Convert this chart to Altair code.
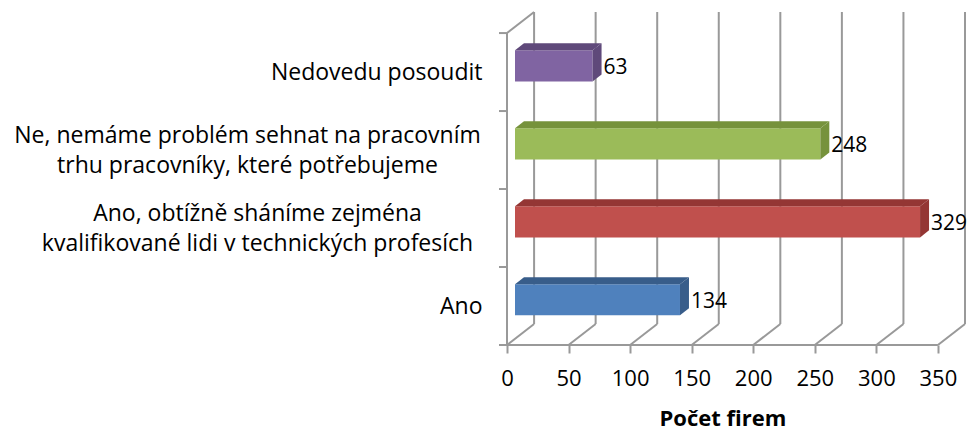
import altair as alt
import pandas as pd

# ---- data ----
categories = [
    ["Ano"],
    ["Ano, obtížně sháníme zejména", "kvalifikované lidi v technických profesích"],
    ["Ne, nemáme problém sehnat na pracovním", "trhu pracovníky, které potřebujeme"],
    ["Nedovedu posoudit"],
]
values = [134, 329, 248, 63]
front_colors = ["#4F81BD", "#C0504D", "#9BBB59", "#8064A2"]
dark_colors = ["#385D8A", "#943634", "#76923C", "#5F497A"]
x_ticks = [0, 50, 100, 150, 200, 250, 300, 350]

# ---- 3D geometry constants (in data units) ----
DX, DY = 22.0, 0.27        # depth of the box (back wall offset)
BX = 6.5                   # bar front-face offset into depth
BDX, BDY = 7.3, 0.09       # bar depth
Y0, Y1 = 0.38, 0.78        # bar front face within slot
XMIN, XMAX = -6.5, 350 + DX
YMAX = len(categories) + DY
W, H = 466, 333

xs = alt.Scale(domain=[XMIN, XMAX], nice=False, zero=False)
ys = alt.Scale(domain=[0, YMAX], nice=False, zero=False)

GRID = "#999999"
FONT = "Open Sans"
FS_CAT = 23
FS_NUM = 22
FS_VAL = 21

# grid / frame segments
segs = []
for v in x_ticks:
    segs.append(dict(x=v + DX, x2=v + DX, y=DY, y2=YMAX))        # back wall
    segs.append(dict(x=v, x2=v + DX, y=0, y2=DY))                 # floor
segs.append(dict(x=0, x2=DX, y=len(categories), y2=YMAX))        # left wall top
segs.append(dict(x=0, x2=0, y=0, y2=len(categories)))            # left front axis
segs.append(dict(x=0, x2=350, y=0, y2=0))                        # bottom front axis
for k in range(len(categories) + 1):
    segs.append(dict(x=XMIN, x2=0, y=k, y2=k))                   # left ticks
seg_df = pd.DataFrame(segs)

# bars
front_rows, top_rows, side_rows, lab_rows = [], [], [], []
for k, v in enumerate(values):
    x0, x1 = BX, BX + v
    y0, y1 = k + Y0, k + Y1
    front_rows.append(dict(id=k, x=x0, x2=x1, y=y0, y2=y1, c=front_colors[k]))
    top_rows.append(dict(id=k, y=y1, x=x0, x2=x1, c=dark_colors[k]))
    top_rows.append(dict(id=k, y=y1 + BDY, x=x0 + BDX, x2=x1 + BDX, c=dark_colors[k]))
    side_rows.append(dict(id=k, x=x1, y=y0, y2=y1, c=dark_colors[k]))
    side_rows.append(dict(id=k, x=x1 + BDX, y=y0 + BDY, y2=y1 + BDY, c=dark_colors[k]))
    lab_rows.append(dict(x=x1 + BDX, y=k + 0.55, t=str(v)))
front_df = pd.DataFrame(front_rows)
top_df = pd.DataFrame(top_rows)
side_df = pd.DataFrame(side_rows)
lab_df = pd.DataFrame(lab_rows)

# y label expression (multi-line)
def js_arr(lines):
    return "[" + ",".join("'" + s + "'" for s in lines) + "]"

expr = js_arr(categories[-1])
for k in range(len(categories) - 2, -1, -1):
    expr = f"datum.value < {k + 1} ? {js_arr(categories[k])} : " + expr

MULTI = "datum.value > 1 && datum.value < 3"

x_axis = alt.Axis(
    values=x_ticks, title="Počet firem", grid=False, domain=False,
    tickColor=GRID, tickWidth=2, tickSize=8,
    labelFont=FONT, labelFontSize=FS_NUM, labelColor="#000", labelPadding=15, labelFlush=False,
    titleFont=FONT, titleFontSize=FS_NUM, titleFontWeight="bold", titleColor="#000",
    titlePadding=19, titleX=(175 - XMIN) * W / (XMAX - XMIN),
)
y_axis = alt.Axis(
    values=[k + 0.5 for k in range(len(categories))], title=None, grid=False,
    domain=False, ticks=False, tickSize=0, labelExpr=expr,
    labelFont=FONT, labelFontSize=FS_CAT, labelColor="#000", labelLineHeight=30,
    labelLimit=700, labelBaseline="middle",
    labelAlign={"condition": {"test": MULTI, "value": "center"}, "value": "right"},
    labelOffset={"condition": {"test": MULTI, "value": -15}, "value": 0},
    labelPadding={"condition": [
        {"test": "datum.value == 1.5", "value": 242},
        {"test": "datum.value == 2.5", "value": 252}], "value": 17},
)

X = alt.X("x:Q", scale=xs, axis=x_axis)
Y = alt.Y("y:Q", scale=ys, axis=y_axis)

rules = alt.Chart(seg_df).mark_rule(color=GRID, strokeWidth=2).encode(
    x=X, x2="x2:Q", y=Y, y2="y2:Q",
)

front = alt.Chart(front_df).mark_rect().encode(
    x=X, x2="x2:Q", y=Y, y2="y2:Q",
    color=alt.Color("c:N", scale=None),
)

top = alt.Chart(top_df).mark_area(orient="horizontal").encode(
    y=Y, x=alt.X("x:Q", scale=xs, axis=x_axis, stack=None), x2="x2:Q",
    detail="id:N", color=alt.Color("c:N", scale=None),
)

side = alt.Chart(side_df).mark_area(orient="vertical").encode(
    x=X, y=alt.Y("y:Q", scale=ys, axis=y_axis, stack=None), y2="y2:Q",
    detail="id:N", color=alt.Color("c:N", scale=None),
)

labels = alt.Chart(lab_df).mark_text(align="left", baseline="middle", dx=2,
                                      font=FONT, fontSize=FS_VAL, color="#000").encode(
    x=X, y=Y, text="t:N",
)

chart = alt.layer(rules, front, top, side, labels).properties(
    width=W, height=H,
    autosize=alt.AutoSizeParams(type="none"),
    padding={"left": 491, "top": 4, "right": 3, "bottom": 88},
    background="white",
).configure_view(strokeWidth=0)

chart.save("out.html", embed_options={"renderer": "svg", "actions": False})
